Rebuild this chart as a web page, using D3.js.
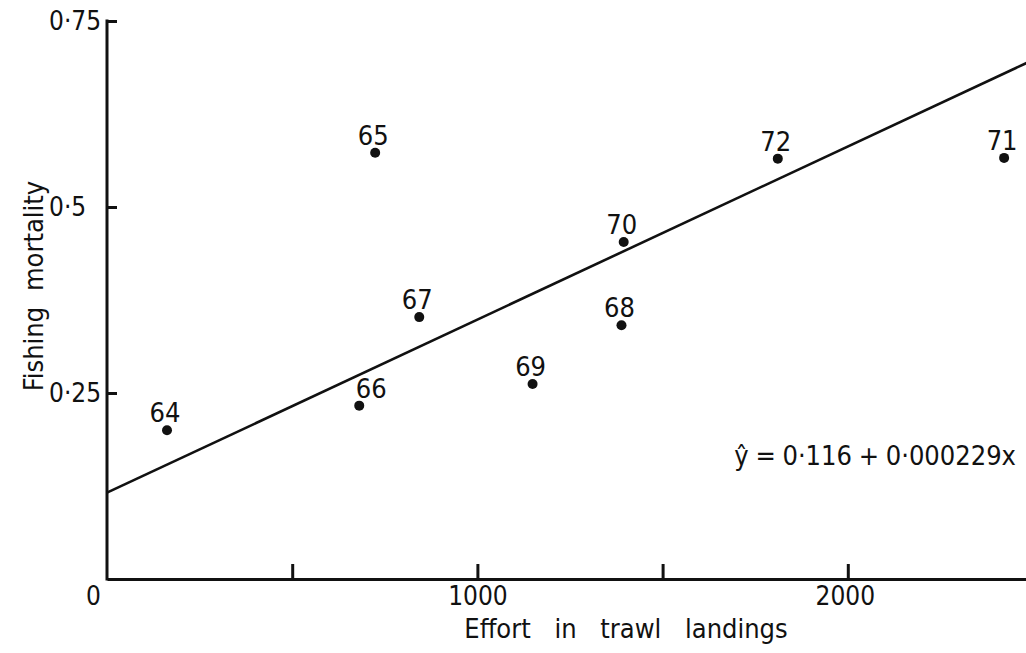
<!DOCTYPE html>
<html>
<head>
<meta charset="utf-8">
<script src="https://cdn.jsdelivr.net/npm/d3@7"></script>
<style>
  body { margin: 0; background: #fff; }
  svg text {
    font-family: "DejaVu Sans Condensed", "DejaVu Sans", sans-serif;
    font-stretch: condensed;
    fill: #111;
  }
  .axis path, .axis line { stroke: #111; stroke-width: 3; }
</style>
</head>
<body>
<div id="chart"></div>
<script>
// years (point labels)
var years = ["64", "65", "66", "67", "68", "69", "70", "71", "72"];
// effort in trawl landings
var effort = [162, 724, 681, 843, 1389, 1149, 1395, 2422, 1811];
// fishing mortality
var mortality = [0.200, 0.573, 0.233, 0.352, 0.341, 0.262, 0.453, 0.566, 0.565];
// fitted line endpoints (y = 0.116 + 0.000229x, as drawn)
var fitX = [0, 2510];
var fitY = [0.116, 0.70];
var xTickMarks = [500, 1000, 1500, 2000];
var xTickLabels = [0, 1000, 2000];
var yTickValues = [0.25, 0.5, 0.75];

var W = 1026, H = 653;
var x0 = 107, y0 = 579, yTop = 21;

var svg = d3.select("#chart").append("svg")
    .attr("width", W)
    .attr("height", H);

var xScale = d3.scaleLinear().domain([0, 2500]).range([x0, 1033]);
var yScale = d3.scaleLinear().domain([0, 0.75]).range([y0, yTop]);

function fmt(d) {
    return d === 0 ? "0" : String(d).replace(".", "\u00b7");
}

// x-axis: tick marks pointing up
svg.append("g")
    .attr("class", "axis x")
    .attr("transform", "translate(0," + y0 + ")")
    .call(d3.axisBottom(xScale).tickValues(xTickMarks).tickSizeInner(-15).tickSizeOuter(0).tickFormat(""));

// x-axis labels
var xLab = svg.append("g")
    .attr("transform", "translate(0," + y0 + ")")
    .call(d3.axisBottom(xScale).tickValues(xTickLabels).tickSize(0).tickPadding(8).tickFormat(fmt));
xLab.select(".domain").remove();
xLab.selectAll("text")
    .attr("font-size", 26)
    .attr("dx", function (d) { return d === 0 ? -14 : (d === 1000 ? 0 : -3); });

// y-axis: ticks pointing right, labels left-aligned
var yAx = svg.append("g")
    .attr("class", "axis y")
    .attr("transform", "translate(" + x0 + ",0)")
    .call(d3.axisLeft(yScale).tickValues(yTickValues).tickSizeInner(-10).tickSizeOuter(0).tickFormat(fmt));
yAx.select(".domain").attr("d", "M0," + (y0 + 1.5) + "V" + (yTop - 1.5));
yAx.selectAll("text")
    .attr("font-size", 26)
    .attr("text-anchor", "start")
    .attr("x", -58);

// regression line
var line = d3.line()
    .x(function (d) { return xScale(d.x); })
    .y(function (d) { return yScale(d.y); });

svg.append("path")
    .datum(fitX.map(function (d, i) { return { x: d, y: fitY[i] }; }))
    .attr("d", line)
    .attr("fill", "none")
    .attr("stroke", "#111")
    .attr("stroke-width", 2.6);

// points
var pts = years.map(function (d, i) {
    return { id: d, x: effort[i], y: mortality[i] };
});
var labelDx = { "66": 14 };

var g = svg.selectAll(".pt")
    .data(pts)
    .enter().append("g")
    .attr("class", "pt");

g.append("circle")
    .attr("cx", function (d) { return xScale(d.x); })
    .attr("cy", function (d) { return yScale(d.y); })
    .attr("r", 5)
    .attr("fill", "#111");

g.append("text")
    .attr("x", function (d) { return xScale(d.x) - 2 + (labelDx[d.id] || 0); })
    .attr("y", function (d) { return yScale(d.y) - 8; })
    .attr("text-anchor", "middle")
    .attr("font-size", 27)
    .text(function (d) { return d.id; });

// axis titles
svg.append("text")
    .attr("x", 626)
    .attr("y", 638)
    .attr("text-anchor", "middle")
    .attr("font-size", 27)
    .attr("word-spacing", 16)
    .text("Effort in trawl landings");

svg.append("text")
    .attr("transform", "translate(43,286) rotate(-90)")
    .attr("text-anchor", "middle")
    .attr("font-size", 27)
    .attr("word-spacing", 8)
    .text("Fishing mortality");

// equation
svg.append("text")
    .attr("x", 1016)
    .attr("y", 465)
    .attr("text-anchor", "end")
    .attr("font-size", 27)
    .attr("word-spacing", -1)
    .text("\u0177 = 0\u00b7116 + 0\u00b7000229x");
</script>
</body>
</html>
